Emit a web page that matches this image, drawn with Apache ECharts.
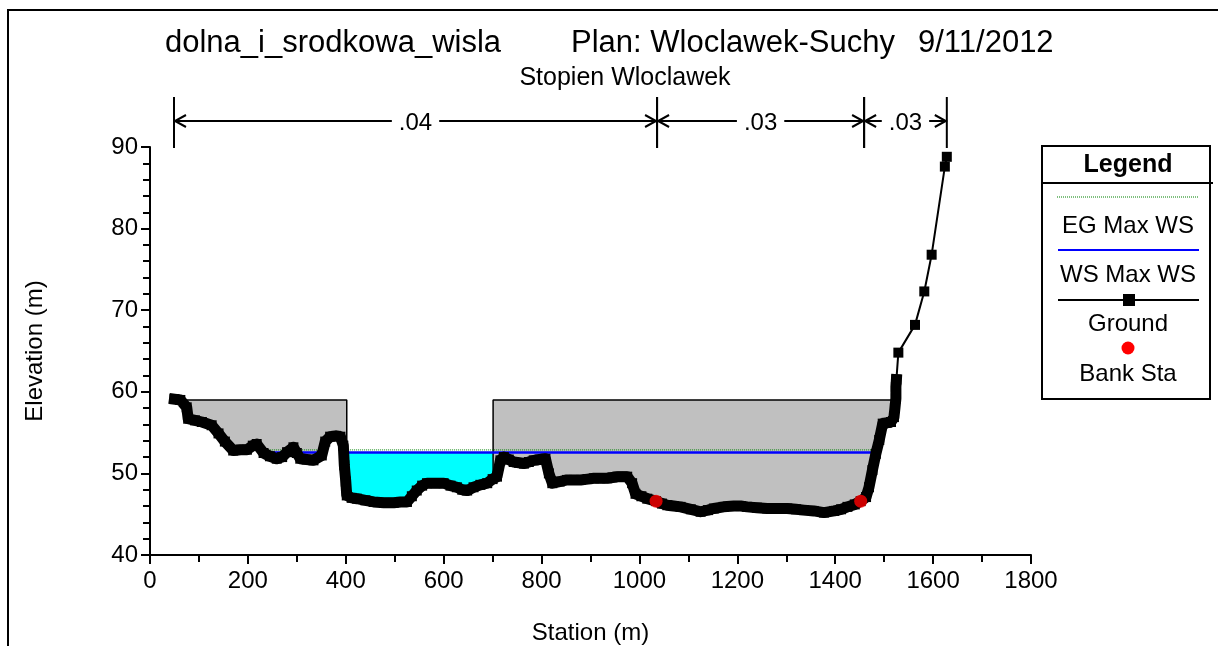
<!DOCTYPE html>
<html>
<head>
<meta charset="utf-8">
<script src="https://cdn.jsdelivr.net/npm/echarts@6/dist/echarts.min.js"></script>
<style>
  html, body { margin: 0; padding: 0; background: #fff; }
  #chart { width: 1218px; height: 646px; }
</style>
</head>
<body>
<div id="chart"></div>
<script>
// Cross section: dolna_i_srodkowa_wisla, Stopien Wloclawek
const FONT = '"Liberation Sans", Arial, sans-serif';

// Ground profile (station m, elevation m)
const groundStations = [
  50, 62, 75, 78, 92, 106, 126, 140, 153, 170, 185, 198, 210, 218, 232, 245, 259, 270, 280, 293,
  300, 307, 320, 334, 351, 358, 368, 380, 389, 395, 397, 400, 402, 412, 423, 440, 457, 478, 498, 512,
  525, 535, 545, 556, 566, 583, 600, 614, 627, 638, 648, 661, 675, 689, 700, 709, 716, 723, 733, 743,
  754, 764, 774, 784, 796, 808, 815, 822, 837, 852, 866, 880, 894, 907, 920, 934, 945, 955, 965, 975,
  985, 992, 1004, 1016, 1034, 1046, 1057, 1070, 1084, 1105, 1125, 1140, 1152, 1172, 1193, 1207, 1220, 1240, 1261, 1282,
  1302, 1320, 1336, 1356, 1377, 1398, 1412, 1425, 1440, 1452, 1463, 1469, 1476, 1483, 1490, 1497, 1505, 1514, 1520, 1522,
  1524, 1524, 1525, 1529, 1563, 1582, 1597, 1624, 1628
];
const groundElevations = [
  59.1, 59.0, 58.1, 56.7, 56.5, 56.3, 55.9, 54.9, 53.9, 52.8, 52.9, 52.9, 53.4, 53.6, 52.5, 52.1, 51.8, 52.0, 52.6, 53.2,
  52.5, 51.8, 51.7, 51.6, 52.2, 53.9, 54.5, 54.6, 54.5, 53.4, 51.0, 49.0, 47.3, 47.0, 46.9, 46.7, 46.5, 46.4, 46.4, 46.5,
  46.5, 47.2, 47.9, 48.5, 48.8, 48.8, 48.8, 48.5, 48.3, 48.0, 47.9, 48.3, 48.6, 48.8, 49.3, 49.6, 51.6, 52.0, 51.7, 51.4,
  51.3, 51.2, 51.4, 51.6, 51.7, 51.8, 50.0, 48.8, 49.0, 49.2, 49.2, 49.2, 49.3, 49.4, 49.4, 49.4, 49.5, 49.6, 49.6, 49.6,
  48.8, 47.5, 47.2, 46.9, 46.6, 46.3, 46.1, 46.0, 45.9, 45.6, 45.3, 45.5, 45.7, 45.9, 46.0, 46.0, 45.9, 45.8, 45.7, 45.7,
  45.7, 45.6, 45.5, 45.4, 45.2, 45.4, 45.6, 45.9, 46.2, 46.6, 47.1, 48.3, 50.4, 52.4, 54.1, 56.1, 56.2, 56.3, 56.9, 58.0,
  59.2, 60.6, 61.5, 64.8, 68.2, 72.3, 76.8, 87.6, 88.8
];

// Bank stations
const bankStations = [1034, 1452];
const bankElevations = [46.6, 46.6];

// Water surface and energy grade (Max WS)
const wsElevation = 52.55;
const egElevation = 52.88;
const wsStations = [225, 1485];

// Ineffective flow areas
const ineffLeftStations = [58, 402];
const ineffRightStations = [701, 1520];
const ineffElevation = 59.0;

// Manning's n zones
const nStations = [49, 1036, 1459, 1628];
const nValues = ['.04', '.03', '.03'];

// Axis ranges
const xMin = 0, xMax = 1800, xStep = 200;
const yMin = 40, yMax = 90, yStep = 10;

const groundData = groundStations.map((s, i) => [s, groundElevations[i]]);
const denseGround = groundData.filter(p => p[0] <= 1525);
const bankData = bankStations.map((s, i) => [s, bankElevations[i]]);
const nData = nValues.map((v, i) => [nStations[i], nStations[i + 1], yMax]);

const chart = echarts.init(document.getElementById('chart'), null, { renderer: 'canvas' });

const legendX = 1042, legendY = 146, legendW = 168, legendH = 253;
const legendCx = legendX + legendW / 2;
const EG_GREEN = '#008000';

const option = {
  animation: false,
  backgroundColor: '#fff',
  textStyle: { fontFamily: FONT },
  grid: { left: 150, right: 187, top: 147, bottom: 91, containLabel: false, outerBoundsMode: 'none' },
  xAxis: {
    type: 'value', min: xMin, max: xMax, interval: xStep, z: 10,
    name: 'Station (m)', nameLocation: 'middle', nameGap: 66,
    nameTextStyle: { fontFamily: FONT, fontSize: 24, color: '#000' },
    axisLine: { onZero: false, lineStyle: { color: '#000', width: 2 } },
    axisTick: { show: true, inside: false, length: 9, lineStyle: { color: '#000', width: 2 } },
    minorTick: { show: true, splitNumber: 2, length: 7, lineStyle: { color: '#000', width: 2 } },
    axisLabel: { fontFamily: FONT, fontSize: 24, color: '#000', margin: 14, formatter: v => String(v) },
    splitLine: { show: false }
  },
  yAxis: {
    type: 'value', min: yMin, max: yMax, interval: yStep, z: 10,
    name: 'Elevation (m)', nameLocation: 'middle', nameGap: 103, nameRotate: 90,
    nameTextStyle: { fontFamily: FONT, fontSize: 24, color: '#000' },
    axisLine: { onZero: false, lineStyle: { color: '#000', width: 2 } },
    axisTick: { show: true, inside: false, length: 9, lineStyle: { color: '#000', width: 2 } },
    minorTick: { show: true, splitNumber: 5, length: 7, lineStyle: { color: '#000', width: 2 } },
    axisLabel: { fontFamily: FONT, fontSize: 24, color: '#000', margin: 12, formatter: v => String(v) },
    splitLine: { show: false }
  },
  series: [
    {
      name: 'Ineffective left', type: 'line', z: 1, symbol: 'none', silent: true,
      data: [[ineffLeftStations[0], ineffElevation], [ineffLeftStations[1], ineffElevation], [ineffLeftStations[1], yMin]],
      lineStyle: { color: '#000', width: 1.5 },
      areaStyle: { color: '#c0c0c0', opacity: 1, origin: 'start' }
    },
    {
      name: 'Ineffective right', type: 'line', z: 1, symbol: 'none', silent: true,
      data: [[ineffRightStations[0], yMin], [ineffRightStations[0], ineffElevation], [ineffRightStations[1], ineffElevation]],
      lineStyle: { color: '#000', width: 1.5 },
      areaStyle: { color: '#c0c0c0', opacity: 1, origin: 'start' }
    },
    {
      name: 'Water', type: 'line', z: 1, symbol: 'none', silent: true,
      data: [[ineffLeftStations[1], wsElevation], [ineffRightStations[0], wsElevation]],
      lineStyle: { width: 0, opacity: 0 },
      areaStyle: { color: '#00ffff', opacity: 1, origin: 'start' }
    },
    {
      name: 'EG Max WS', type: 'line', z: 2, symbol: 'none', silent: true,
      data: wsStations.map(s => [s, egElevation]),
      lineStyle: { color: EG_GREEN, width: 1, type: [1, 1] }
    },
    {
      name: 'WS Max WS', type: 'line', z: 2, symbol: 'none', silent: true,
      data: wsStations.map(s => [s, wsElevation]),
      lineStyle: { color: '#0000ff', width: 2.5 }
    },
    {
      // white fill below the ground line
      name: 'Ground fill', type: 'line', z: 3, symbol: 'none', silent: true,
      data: groundData,
      lineStyle: { width: 0, opacity: 0 },
      areaStyle: { color: '#fff', opacity: 1, origin: 'start' }
    },
    {
      name: 'Ground band', type: 'line', z: 4, symbol: 'none', silent: true,
      data: denseGround,
      lineStyle: { color: '#000', width: 11, join: 'round', cap: 'square' }
    },
    {
      name: 'Ground', type: 'line', z: 4, silent: true,
      data: groundData,
      symbol: 'rect', symbolSize: 10, showSymbol: true,
      itemStyle: { color: '#000' },
      lineStyle: { color: '#000', width: 2 }
    },
    {
      name: 'Bank Sta', type: 'scatter', z: 5, silent: true,
      data: bankData, symbol: 'circle', symbolSize: 13,
      itemStyle: { color: '#ff0000' }
    },
    {
      name: 'Manning n', type: 'custom', z: 5, silent: true, clip: false,
      encode: { x: [0, 1], y: 2 },
      data: nData,
      renderItem: function (params, api) {
        const x1 = api.coord([api.value(0), yMax])[0];
        const x2 = api.coord([api.value(1), yMax])[0];
        const top = api.coord([xMin, yMax])[1];
        const ay = top - 26;
        const stroke = { stroke: '#000', lineWidth: 2, fill: null };
        const ah = 12, aw = 6;
        return {
          type: 'group',
          children: [
            { type: 'line', shape: { x1: x1, y1: top - 50, x2: x1, y2: top + 1 }, style: stroke },
            { type: 'line', shape: { x1: x2, y1: top - 50, x2: x2, y2: top + 1 }, style: stroke },
            { type: 'line', shape: { x1: x1, y1: ay, x2: x2, y2: ay }, style: { stroke: '#000', lineWidth: 2 } },
            { type: 'polyline', shape: { points: [[x1 + ah, ay - aw], [x1 + 1, ay], [x1 + ah, ay + aw]] }, style: stroke },
            { type: 'polyline', shape: { points: [[x2 - ah, ay - aw], [x2 - 1, ay], [x2 - ah, ay + aw]] }, style: stroke },
            {
              type: 'text', z2: 10,
              style: {
                text: nValues[params.dataIndex], x: (x1 + x2) / 2, y: ay + 2,
                align: 'center', verticalAlign: 'middle',
                font: '24px ' + FONT, fill: '#000',
                backgroundColor: '#fff', padding: [0, 7]
              }
            }
          ]
        };
      }
    }
  ],
  graphic: [
    // outer frame
    { type: 'rect', z: 100, silent: true, shape: { x: 8, y: 10, width: 1240, height: 700 }, style: { fill: null, stroke: '#000', lineWidth: 2 } },
    // titles
    { type: 'text', z: 100, x: 165, y: 43, style: { text: 'dolna_i_srodkowa_wisla', font: '31px ' + FONT, fill: '#000', verticalAlign: 'middle' } },
    { type: 'text', z: 100, x: 571, y: 43, style: { text: 'Plan: Wloclawek-Suchy', font: '31px ' + FONT, fill: '#000', verticalAlign: 'middle' } },
    { type: 'text', z: 100, x: 918, y: 43, style: { text: '9/11/2012', font: '31px ' + FONT, fill: '#000', verticalAlign: 'middle' } },
    { type: 'text', z: 100, x: 625, y: 78, style: { text: 'Stopien Wloclawek', font: '25px ' + FONT, fill: '#000', align: 'center', verticalAlign: 'middle' } },
    // legend box
    {
      type: 'group', z: 100, silent: true,
      children: [
        { type: 'rect', shape: { x: legendX, y: legendY, width: legendW, height: legendH }, style: { fill: '#fff', stroke: '#000', lineWidth: 2 } },
        { type: 'line', shape: { x1: legendX, y1: 183, x2: legendX + legendW + 3, y2: 183 }, style: { stroke: '#000', lineWidth: 2 } },
        { type: 'text', style: { text: 'Legend', x: legendCx + 2, y: 165, align: 'center', verticalAlign: 'middle', font: 'bold 25px ' + FONT, fill: '#000' } },
        { type: 'line', shape: { x1: 1057, y1: 197, x2: 1198, y2: 197 }, style: { stroke: EG_GREEN, lineWidth: 1, lineDash: [1, 1] } },
        { type: 'text', style: { text: 'EG Max WS', x: legendCx + 2, y: 226, align: 'center', verticalAlign: 'middle', font: '24px ' + FONT, fill: '#000' } },
        { type: 'line', shape: { x1: 1058, y1: 250, x2: 1199, y2: 250 }, style: { stroke: '#0000ff', lineWidth: 2 } },
        { type: 'text', style: { text: 'WS Max WS', x: legendCx + 2, y: 275, align: 'center', verticalAlign: 'middle', font: '24px ' + FONT, fill: '#000' } },
        { type: 'line', shape: { x1: 1058, y1: 300, x2: 1199, y2: 300 }, style: { stroke: '#000', lineWidth: 2 } },
        { type: 'rect', shape: { x: 1123, y: 294, width: 12, height: 12 }, style: { fill: '#000' } },
        { type: 'text', style: { text: 'Ground', x: legendCx + 2, y: 324, align: 'center', verticalAlign: 'middle', font: '24px ' + FONT, fill: '#000' } },
        { type: 'circle', shape: { cx: 1128, cy: 348, r: 6.5 }, style: { fill: '#ff0000' } },
        { type: 'text', style: { text: 'Bank Sta', x: legendCx + 2, y: 374, align: 'center', verticalAlign: 'middle', font: '24px ' + FONT, fill: '#000' } }
      ]
    }
  ]
};

chart.setOption(option);
</script>
</body>
</html>
